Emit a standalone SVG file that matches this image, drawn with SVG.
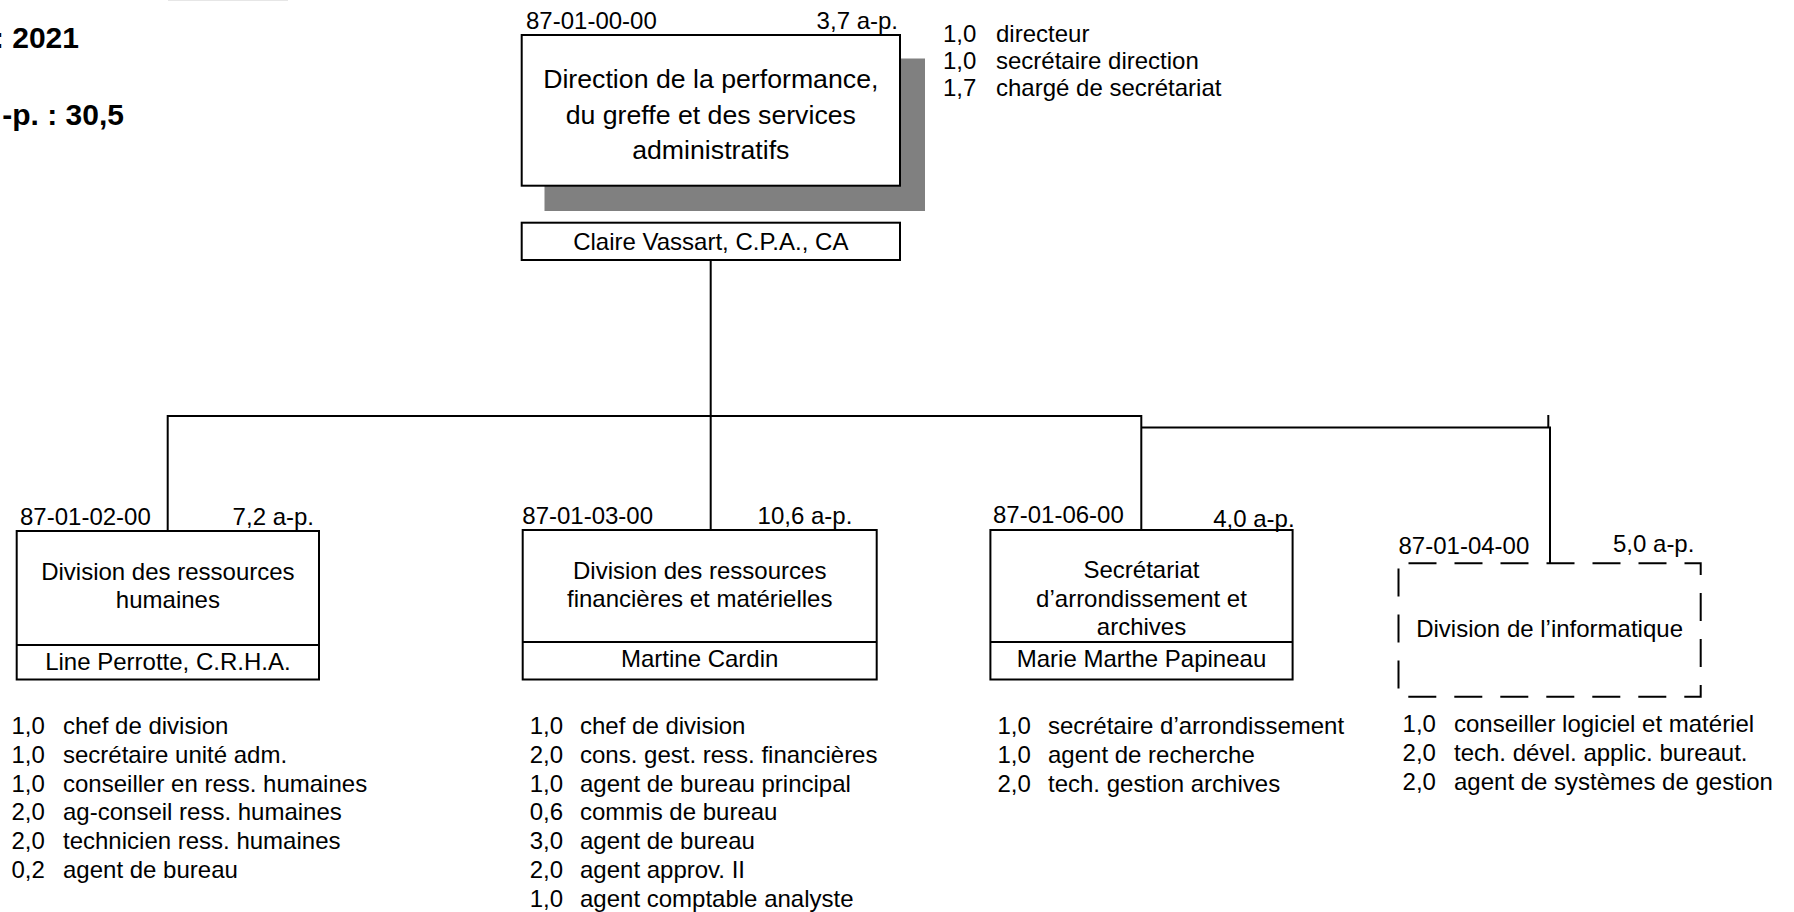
<svg xmlns="http://www.w3.org/2000/svg" width="1794" height="912" viewBox="0 0 1794 912">
<style>
.t{font-family:"Liberation Sans",Arial,sans-serif;font-size:24px;fill:#000}
.big{font-size:26.7px}
.b{font-weight:bold;font-size:30px}
.c{text-anchor:middle}
.e{text-anchor:end}
.box{fill:#fff;stroke:#000;stroke-width:2}
.dash{fill:none;stroke:#000;stroke-width:2;stroke-dasharray:28 18;stroke-dashoffset:36}
.ln{fill:none;stroke:#000;stroke-width:2}
</style>
<rect x="0" y="0" width="1794" height="912" fill="#fff"/>
<rect x="168" y="0" width="120" height="1" fill="#e6e6e6"/>
<g id="header">
<text class="t b e" x="79" y="48">: 2021</text>
<text class="t b e" x="124" y="125">-p. : 30,5</text>
</g>
<g id="connectors">
<path class="ln" d="M710.7 260 V530"/>
<path class="ln" d="M167.7 531 V416 H1141.3 V530"/>
<path class="ln" d="M1141.3 427.5 H1550 V563.3"/>
<path class="ln" d="M1548.3 415 V427.5"/>
</g>
<g id="direction">
<rect x="544.5" y="58.5" width="380.5" height="152.5" fill="#808080"/>
<rect class="box" x="521.7" y="35" width="378.3" height="150.7"/>
<text class="t" x="526" y="28.5">87-01-00-00</text>
<text class="t e" x="898" y="28.5">3,7 a-p.</text>
<text class="t big c" x="710.8" y="88">Direction de la performance,</text>
<text class="t big c" x="710.8" y="123.5">du greffe et des services</text>
<text class="t big c" x="710.8" y="159">administratifs</text>
<rect class="box" x="521.7" y="222.7" width="378.3" height="37.3"/>
<text class="t c" x="710.8" y="250">Claire Vassart, C.P.A., CA</text>
<text class="t"><tspan x="943" y="42">1,0</tspan><tspan x="996" y="42">directeur</tspan></text>
<text class="t"><tspan x="943" y="69">1,0</tspan><tspan x="996" y="69">secrétaire direction</tspan></text>
<text class="t"><tspan x="943" y="96">1,7</tspan><tspan x="996" y="96">chargé de secrétariat</tspan></text>
</g>
<g id="div-rh">
<rect class="box" x="16.7" y="531" width="302.3" height="148.5"/>
<path class="ln" d="M16.7 645 H319"/>
<text class="t" x="20" y="525">87-01-02-00</text>
<text class="t e" x="314" y="525">7,2 a-p.</text>
<text class="t c" x="167.9" y="580">Division des ressources</text>
<text class="t c" x="167.9" y="608.3">humaines</text>
<text class="t c" x="167.9" y="669.5">Line Perrotte, C.R.H.A.</text>
<text class="t"><tspan x="11.5" y="734">1,0</tspan><tspan x="63" y="734">chef de division</tspan></text>
<text class="t"><tspan x="11.5" y="762.8">1,0</tspan><tspan x="63" y="762.8">secrétaire unité adm.</tspan></text>
<text class="t"><tspan x="11.5" y="791.6">1,0</tspan><tspan x="63" y="791.6">conseiller en ress. humaines</tspan></text>
<text class="t"><tspan x="11.5" y="820.4">2,0</tspan><tspan x="63" y="820.4">ag-conseil ress. humaines</tspan></text>
<text class="t"><tspan x="11.5" y="849.2">2,0</tspan><tspan x="63" y="849.2">technicien ress. humaines</tspan></text>
<text class="t"><tspan x="11.5" y="878">0,2</tspan><tspan x="63" y="878">agent de bureau</tspan></text>
</g>
<g id="div-rfm">
<rect class="box" x="522.7" y="530" width="354" height="149.5"/>
<path class="ln" d="M522.7 642 H876.7"/>
<text class="t" x="522.3" y="524">87-01-03-00</text>
<text class="t e" x="852.3" y="524">10,6 a-p.</text>
<text class="t c" x="699.7" y="579">Division des ressources</text>
<text class="t c" x="699.7" y="606.7">financières et matérielles</text>
<text class="t c" x="699.7" y="667">Martine Cardin</text>
<text class="t"><tspan x="529.7" y="734">1,0</tspan><tspan x="580" y="734">chef de division</tspan></text>
<text class="t"><tspan x="529.7" y="762.8">2,0</tspan><tspan x="580" y="762.8">cons. gest. ress. financières</tspan></text>
<text class="t"><tspan x="529.7" y="791.6">1,0</tspan><tspan x="580" y="791.6">agent de bureau principal</tspan></text>
<text class="t"><tspan x="529.7" y="820.4">0,6</tspan><tspan x="580" y="820.4">commis de bureau</tspan></text>
<text class="t"><tspan x="529.7" y="849.2">3,0</tspan><tspan x="580" y="849.2">agent de bureau</tspan></text>
<text class="t"><tspan x="529.7" y="878">2,0</tspan><tspan x="580" y="878">agent approv. II</tspan></text>
<text class="t"><tspan x="529.7" y="906.8">1,0</tspan><tspan x="580" y="906.8">agent comptable analyste</tspan></text>
</g>
<g id="secretariat">
<rect class="box" x="990.4" y="530" width="302.2" height="149.5"/>
<path class="ln" d="M990.4 642 H1292.6"/>
<text class="t" x="993" y="522.5">87-01-06-00</text>
<text class="t e" x="1294.6" y="526.5">4,0 a-p.</text>
<text class="t c" x="1141.5" y="578.3">Secrétariat</text>
<text class="t c" x="1141.5" y="606.7">d’arrondissement et</text>
<text class="t c" x="1141.5" y="635">archives</text>
<text class="t c" x="1141.5" y="667">Marie Marthe Papineau</text>
<text class="t"><tspan x="997.5" y="734">1,0</tspan><tspan x="1048" y="734">secrétaire d’arrondissement</tspan></text>
<text class="t"><tspan x="997.5" y="762.8">1,0</tspan><tspan x="1048" y="762.8">agent de recherche</tspan></text>
<text class="t"><tspan x="997.5" y="791.6">2,0</tspan><tspan x="1048" y="791.6">tech. gestion archives</tspan></text>
</g>
<g id="div-info">
<rect class="dash" x="1398.5" y="563.3" width="302.2" height="133.4"/>
<text class="t" x="1398.5" y="554">87-01-04-00</text>
<text class="t e" x="1694.4" y="552">5,0 a-p.</text>
<text class="t c" x="1549.6" y="637.3">Division de l’informatique</text>
<text class="t"><tspan x="1402.6" y="732">1,0</tspan><tspan x="1454" y="732">conseiller logiciel et matériel</tspan></text>
<text class="t"><tspan x="1402.6" y="760.8">2,0</tspan><tspan x="1454" y="760.8">tech. dével. applic. bureaut.</tspan></text>
<text class="t"><tspan x="1402.6" y="789.6">2,0</tspan><tspan x="1454" y="789.6">agent de systèmes de gestion</tspan></text>
</g>
</svg>
